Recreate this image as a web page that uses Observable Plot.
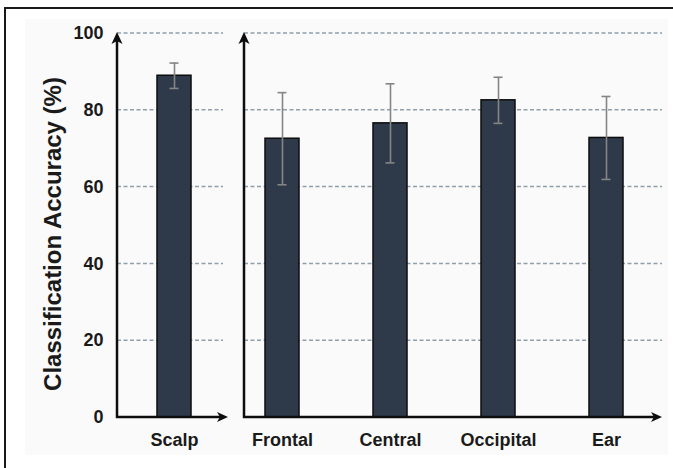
<!DOCTYPE html>
<html><head><meta charset="utf-8">
<script src="https://cdn.jsdelivr.net/npm/d3@7"></script>
<script src="https://cdn.jsdelivr.net/npm/@observablehq/plot@0.6"></script>
<style>
html,body{margin:0;padding:0;background:#fff;}
#wrap{position:relative;width:673px;height:468px;overflow:hidden;font-family:"Liberation Sans",Arial,sans-serif;}
#frame{position:absolute;left:4px;top:7px;width:700px;height:500px;border-left:2px solid #1a1a1a;border-top:2px solid #1a1a1a;}
#panel{position:absolute;left:25px;top:19px;width:643px;height:436px;background:#fafafa;}
#chart{position:absolute;left:0;top:0;}
</style></head><body>
<div id="wrap"><div id="frame"></div><div id="panel"></div><div id="chart"></div></div>
<script>
const regions = ["Scalp", "Frontal", "Central", "Occipital", "Ear"];
const accuracy = [89.0, 72.6, 76.6, 82.6, 72.8];
const errors = [3.3, 12.0, 10.3, 6.0, 10.8];
const yTicks = [0, 20, 40, 60, 80, 100];
const gridTicks = [20, 40, 60, 80, 100];
const yTitle = "Classification Accuracy (%)";

const data = regions.map((r, i) => ({region: r, acc: accuracy[i], lo: accuracy[i] - errors[i], hi: accuracy[i] + errors[i]}));

const errStyle = {stroke: "#858585", strokeWidth: 1.6};
const plot = Plot.plot({
  width: 673, height: 468,
  marginLeft: 118, marginRight: 11, marginTop: 33, marginBottom: 51,
  style: {background: "transparent", fontFamily: "Liberation Sans, Arial, sans-serif", color: "#1a1a1a", overflow: "visible"},
  x: {type: "band", domain: regions, paddingInner: 0.6875, paddingOuter: 0.34375, label: null},
  y: {domain: [0, 100], label: null},
  marks: [
    Plot.barY(data, {x: "region", y: "acc", fill: "#2e3a4a", stroke: "#0d0d0d", strokeWidth: 1.5}),
    Plot.ruleX(data, {x: "region", y1: "lo", y2: "hi", ...errStyle}),
    Plot.tickY(data, {x: "region", y: "lo", insetLeft: 12.5, insetRight: 12.5, ...errStyle}),
    Plot.tickY(data, {x: "region", y: "hi", insetLeft: 12.5, insetRight: 12.5, ...errStyle}),
    Plot.axisY({ticks: yTicks, tickSize: 0, tickPadding: 15, fontSize: 18, fontWeight: "bold", label: null}),
    Plot.axisX({tickSize: 0, tickPadding: 16, fontSize: 18, fontWeight: "bold", label: null})
  ]
});
document.getElementById("chart").appendChild(plot);

const sx = plot.scale("x"), sy = plot.scale("y");
const svg = d3.select(plot);
const bw = sx.bandwidth, step = sx.step;
const [r0, r1] = sx.range;
const y0 = sy.apply(0), yTop = sy.apply(100);
const leftAxisX = r0 - 1;
const scalpEnd = sx.apply(regions[0]) + bw + (step - bw) / 2;
const rightAxisX = sx.apply(regions[1]) - 21;

// gridlines behind bars
const grid = svg.insert("g", ":first-child");
const panels = [[leftAxisX, scalpEnd - 5], [rightAxisX, r1]];
for (const t of gridTicks) {
  for (const [a, b] of panels) {
    grid.append("line").attr("x1", a).attr("x2", b).attr("y1", sy.apply(t)).attr("y2", sy.apply(t))
      .attr("stroke", "#8fa0ac").attr("stroke-width", 1.5).attr("stroke-dasharray", "4,2.5");
  }
}

// axes with arrows
const ax = svg.append("g").attr("stroke", "#0d0d0d").attr("fill", "#0d0d0d");
function vArrow(x) {
  ax.append("line").attr("x1", x).attr("x2", x).attr("y1", y0 + 1).attr("y2", yTop + 8).attr("stroke-width", 2.5);
  ax.append("path").attr("stroke", "none").attr("d", `M${x},${yTop - 1}L${x - 5.5},${yTop + 11}L${x},${yTop + 8}L${x + 5.5},${yTop + 11}Z`);
}
function hArrow(xa, xb) {
  ax.append("line").attr("x1", xa - 1).attr("x2", xb - 7).attr("y1", y0).attr("y2", y0).attr("stroke-width", 2.5);
  ax.append("path").attr("stroke", "none").attr("d", `M${xb},${y0}L${xb - 11},${y0 - 5}L${xb - 8},${y0}L${xb - 11},${y0 + 5}Z`);
}
vArrow(leftAxisX); vArrow(rightAxisX);
hArrow(leftAxisX, scalpEnd); hArrow(rightAxisX, r1);

// y title
svg.append("text").attr("transform", `translate(52.5,${(y0 + yTop) / 2 + 9}) rotate(-90)`)
  .attr("text-anchor", "middle").attr("dominant-baseline", "central")
  .attr("font-size", 24).attr("font-weight", "bold").attr("fill", "#1a1a1a")
  .attr("font-family", "Liberation Sans, Arial, sans-serif")
  .text(yTitle);
</script>
</body></html>
